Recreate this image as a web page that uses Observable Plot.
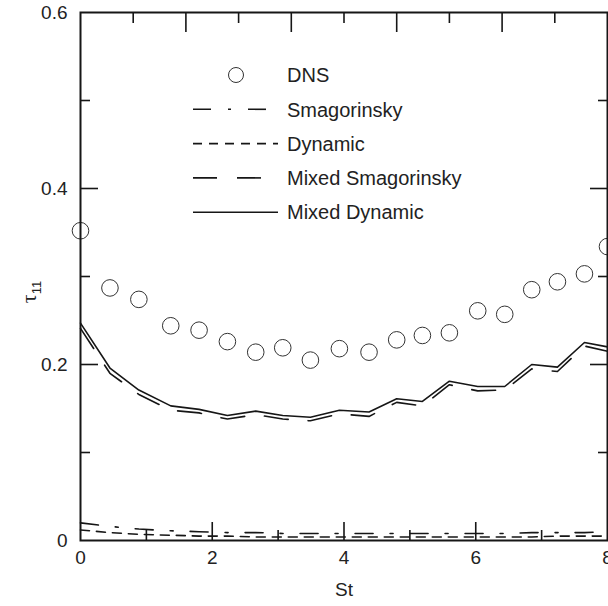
<!DOCTYPE html>
<html><head><meta charset="utf-8">
<script src="https://cdn.jsdelivr.net/npm/d3@7"></script>
<script src="https://cdn.jsdelivr.net/npm/@observablehq/plot@0.6"></script>
<style>html,body{margin:0;padding:0;background:#fff}svg{display:block}</style>
</head><body><div id="chart"></div>
<script>
// Stokes number sample positions
const st = [0, 0.447, 0.886, 1.37, 1.80, 2.23, 2.66, 3.07, 3.49, 3.93, 4.38, 4.80, 5.19, 5.60, 6.03, 6.44, 6.85, 7.24, 7.65, 8.0];
// tau_11 series
const dns = [0.352, 0.287, 0.274, 0.244, 0.239, 0.226, 0.214, 0.219, 0.205, 0.218, 0.214, 0.228, 0.233, 0.236, 0.261, 0.257, 0.285, 0.294, 0.303, 0.334];
const smagorinsky = [0.020, 0.016, 0.013, 0.011, 0.010, 0.009, 0.009, 0.008, 0.008, 0.008, 0.008, 0.008, 0.008, 0.008, 0.008, 0.008, 0.009, 0.009, 0.009, 0.010];
const dynamic = [0.012, 0.009, 0.007, 0.006, 0.005, 0.005, 0.004, 0.004, 0.004, 0.004, 0.004, 0.004, 0.004, 0.004, 0.004, 0.004, 0.004, 0.005, 0.005, 0.005];
const mixedSmagorinsky = [0.241, 0.190, 0.166, 0.148, 0.145, 0.138, 0.143, 0.138, 0.136, 0.144, 0.141, 0.157, 0.153, 0.177, 0.170, 0.171, 0.195, 0.192, 0.221, 0.215];
const mixedDynamic = [0.247, 0.196, 0.171, 0.153, 0.149, 0.142, 0.147, 0.142, 0.140, 0.148, 0.146, 0.161, 0.158, 0.181, 0.175, 0.175, 0.200, 0.197, 0.225, 0.220];
const seriesNames = ["DNS", "Smagorinsky", "Dynamic", "Mixed Smagorinsky", "Mixed Dynamic"];
// ticks
const xTickLabels = [0, 2, 4, 6, 8];
const xMajorTicks = [2, 4, 6];
const xMinorTicks = [1, 3, 5, 7];
const topMajorTicks = [1.6, 3.2, 4.8, 6.4];
const topMinorTicks = [0.8, 2.4, 4.0, 5.6, 7.2];
const yTickLabels = [0, 0.2, 0.4, 0.6];
const yMajorTicks = [0.2, 0.4];
const yMinorTicks = [0.1, 0.3, 0.5];

const dashes = {"Smagorinsky": "18,17,3,17", "Dynamic": "9,7", "Mixed Smagorinsky": "24,20", "Mixed Dynamic": null};
const lineSeries = [
  {name: "Smagorinsky", values: smagorinsky},
  {name: "Dynamic", values: dynamic},
  {name: "Mixed Smagorinsky", values: mixedSmagorinsky},
  {name: "Mixed Dynamic", values: mixedDynamic}
];
const rows = vals => st.map((x, i) => ({st: x, tau: vals[i]}));
const INK = "#161616";

const tickAxis = (fn, data, anchor, size) => fn(data, {anchor, tickSize: -size, text: null, label: null, stroke: INK, strokeWidth: 1.6});

const plot = Plot.plot({
  width: 608, height: 606,
  marginLeft: 80, marginRight: 1, marginTop: 12, marginBottom: 66,
  x: {domain: [0, 8]},
  y: {domain: [0, 0.6]},
  style: {fontFamily: "'Liberation Sans', Arial, Helvetica, sans-serif", fontSize: "19px", color: "#222", background: "#fff"},
  marks: [
    ...lineSeries.map(s => Plot.line(rows(s.values), {x: "st", y: "tau", stroke: INK, strokeWidth: 1.6, strokeDasharray: dashes[s.name]})),
    Plot.dot(rows(dns), {x: "st", y: "tau", r: 8.3, stroke: "#333", strokeWidth: 1, fill: "none"}),
    tickAxis(Plot.axisX, xMajorTicks, "bottom", 18),
    tickAxis(Plot.axisX, xMinorTicks, "bottom", 10),
    tickAxis(Plot.axisX, topMajorTicks, "top", 19),
    tickAxis(Plot.axisX, topMinorTicks, "top", 10),
    tickAxis(Plot.axisY, yMajorTicks, "left", 18),
    tickAxis(Plot.axisY, yMinorTicks, "left", 10),
    tickAxis(Plot.axisY, yMajorTicks, "right", 18),
    tickAxis(Plot.axisY, yMinorTicks, "right", 10),
    Plot.axisX(xTickLabels, {anchor: "bottom", tickSize: 0, tickPadding: 10, tickFormat: d => String(d), fill: "#222",
      label: "St", labelAnchor: "center", labelOffset: 55, labelArrow: "none"}),
    Plot.axisY(yTickLabels, {anchor: "left", tickSize: 0, tickPadding: 13, tickFormat: d => String(d), fill: "#222", label: null}),
    Plot.frame({stroke: INK, strokeWidth: 2})
  ]
});
document.getElementById("chart").appendChild(plot);

// y-axis label tau_11
const svg = d3.select(plot);
const yl = svg.append("text")
  .attr("transform", "translate(36,292) rotate(-90)")
  .attr("text-anchor", "middle")
  .attr("fill", "#222")
  .style("font-family", "'Liberation Serif', 'DejaVu Serif', serif")
  .style("font-size", "22px");
yl.append("tspan").text("τ");
yl.append("tspan").attr("dy", 5).style("font-size", "13px")
  .style("font-family", "'Liberation Sans', Arial, sans-serif").text("11");

// legend
const lg = svg.append("g").attr("transform", "translate(193,75)");
seriesNames.forEach((name, i) => {
  const y = i * 34.3;
  if (name === "DNS") {
    lg.append("circle").attr("cx", 43).attr("cy", y).attr("r", 7.5)
      .attr("fill", "none").attr("stroke", "#333").attr("stroke-width", 1);
  } else {
    const ln = lg.append("line").attr("x1", 0).attr("x2", 85).attr("y1", y).attr("y2", y)
      .attr("stroke", INK).attr("stroke-width", 1.6);
    if (dashes[name]) ln.attr("stroke-dasharray", dashes[name]);
  }
  lg.append("text").attr("x", 94).attr("y", y).attr("dy", "0.36em")
    .attr("text-anchor", "start")
    .attr("fill", "#222")
    .style("font-family", "'Liberation Sans', Arial, sans-serif").style("font-size", "20px")
    .text(name);
});
</script>
</body></html>
